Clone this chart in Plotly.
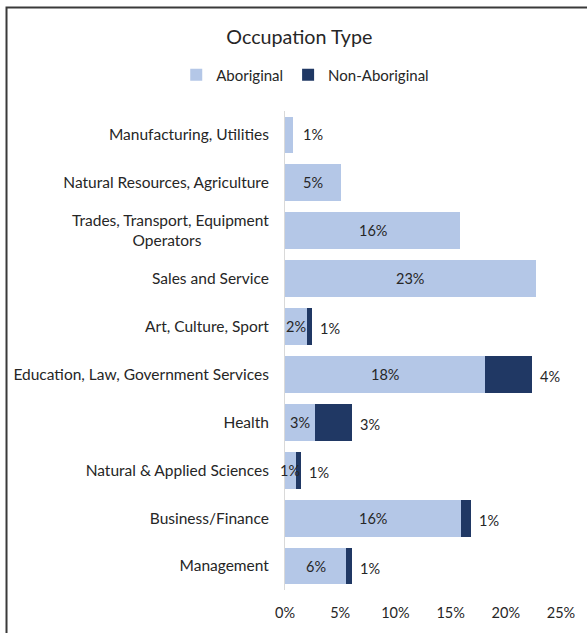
import plotly.graph_objects as go

categories = [
    "Manufacturing, Utilities",
    "Natural Resources, Agriculture",
    "Trades, Transport, Equipment Operators",
    "Sales and Service",
    "Art, Culture, Sport",
    "Education, Law, Government Services",
    "Health",
    "Natural & Applied Sciences",
    "Business/Finance",
    "Management",
]
tick_text = [
    "Manufacturing, Utilities",
    "Natural Resources, Agriculture",
    "Trades, Transport, Equipment<br>Operators" + "\u00a0" * 17,
    "Sales and Service",
    "Art, Culture, Sport",
    "Education, Law, Government Services",
    "Health",
    "Natural & Applied Sciences",
    "Business/Finance",
    "Management",
]
aboriginal = [0.72, 5.03, 15.86, 22.7, 1.99, 18.14, 2.74, 0.99, 15.9, 5.53]
non_aboriginal = [None, None, None, None, 0.48, 4.24, 3.31, 0.48, 0.99, 0.51]
aboriginal_labels = ["1%", "5%", "16%", "23%", "2%", "18%", "3%", "1%", "16%", "6%"]
non_aboriginal_labels = [None, None, None, None, "1%", "4%", "3%", "1%", "1%", "1%"]
x_ticks = [0, 5, 10, 15, 20, 25]
x_tick_labels = ["0%", "5%", "10%", "15%", "20%", "25%"]

FONT = "Lato"
TXT = "#262626"
W, H = 587, 633
ML, MR, MT, MB = 285, 25, 111, 38
LABEL_FONT = dict(family=FONT, size=14.5, color=TXT)

fig = go.Figure()
fig.add_trace(go.Bar(
    y=categories, x=aboriginal, orientation="h", name="Aboriginal",
    marker=dict(color="#b4c7e7", line=dict(width=0)),
))
fig.add_trace(go.Bar(
    y=categories, x=non_aboriginal, orientation="h", name="Non-Aboriginal",
    marker=dict(color="#203864", line=dict(width=0)),
))

# data labels (annotations so they sit on top of the stacked bars)
for c, v, n, lab in zip(categories, aboriginal, non_aboriginal, aboriginal_labels):
    if n is None and v < 1.5:
        fig.add_annotation(x=v, y=c, text=lab, showarrow=False, xanchor="left",
                           xshift=8, font=LABEL_FONT)
    else:
        fig.add_annotation(x=v / 2, y=c, text=lab, showarrow=False,
                           xanchor="center", font=LABEL_FONT)
for c, v, n, lab in zip(categories, aboriginal, non_aboriginal, non_aboriginal_labels):
    if n is not None and lab:
        fig.add_annotation(x=v + n, y=c, text=lab, showarrow=False, xanchor="left",
                           xshift=6, yshift=-2, font=LABEL_FONT)

# outer frame (chart border)
pw = W - ML - MR
ph = H - MT - MB
def px_x(p):
    return (p - ML) / pw
def px_y(p):
    return (H - MB - p) / ph
fig.add_shape(type="rect", xref="paper", yref="paper",
              x0=px_x(5.5), x1=px_x(W + 20), y0=px_y(H + 20), y1=px_y(6.5),
              line=dict(color="#3a3a3a", width=2), fillcolor="rgba(0,0,0,0)")

fig.update_layout(
    width=W, height=H,
    margin=dict(l=ML, r=MR, t=MT, b=MB),
    barmode="stack", bargap=0.23,
    paper_bgcolor="white", plot_bgcolor="white",
    font=dict(family=FONT, size=15.5, color=TXT),
    showlegend=True,
    title=dict(text="Occupation Type", x=0.51, xref="container", xanchor="center",
               y=1 - 37 / H, yref="container", yanchor="middle",
               font=dict(family=FONT, size=19.7, color=TXT)),
    legend=dict(orientation="h", x=0.52, xref="container", xanchor="center",
                y=1 - 75 / H, yref="container", yanchor="middle",
                font=dict(family=FONT, size=15, color=TXT),
                itemwidth=30, traceorder="normal"),
    xaxis=dict(range=[0, 25], tickvals=x_ticks, ticktext=x_tick_labels,
               showgrid=False, zeroline=False, showline=False, ticks="",
               ticklabelstandoff=12, tickfont=dict(family=FONT, size=14.5, color=TXT)),
    yaxis=dict(autorange="reversed", tickvals=categories, ticktext=tick_text,
               showgrid=False, zeroline=False, showline=True,
               linecolor="#d9d9d9", linewidth=1, ticks="",
               ticklabelstandoff=12, tickfont=dict(family=FONT, size=15.5, color=TXT)),
)

fig.write_html("out.html", config={"displayModeBar": False},
               post_script="document.body.style.margin='0';")
